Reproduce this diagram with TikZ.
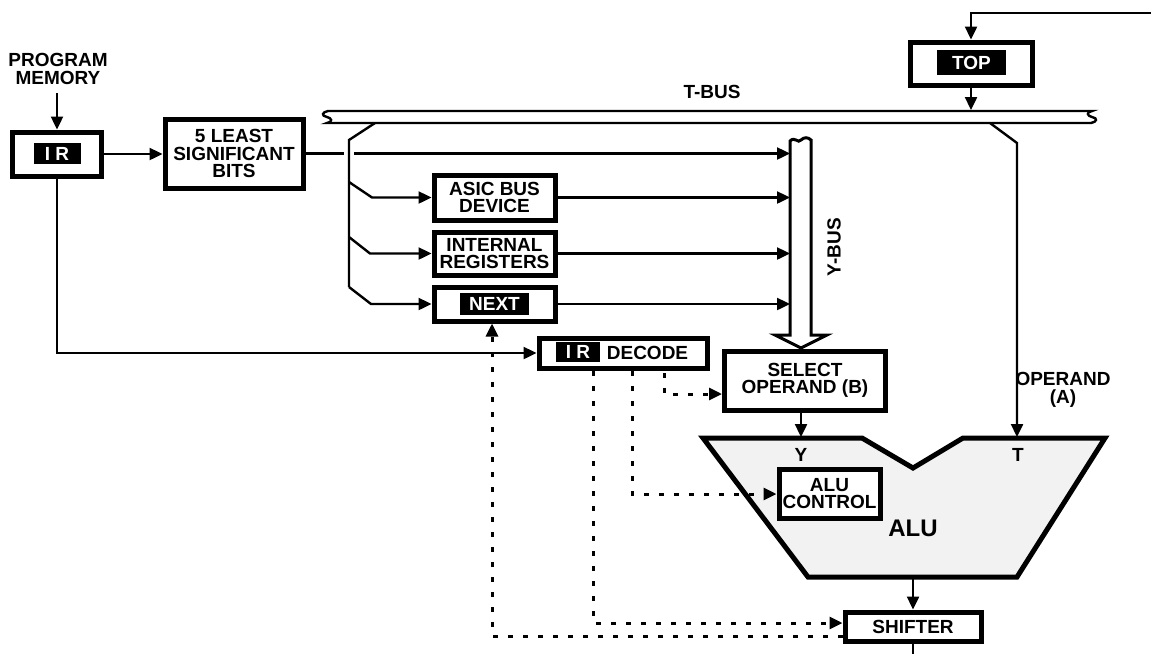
\documentclass[tikz,border=0pt]{standalone}
\usepackage{fontspec}
\setmainfont{Liberation Sans}
\usetikzlibrary{arrows.meta,calc}
\begin{document}
\begin{tikzpicture}[x=1pt,y=-1pt,
  conn/.style={line width=2.4pt},
  arr/.style={conn,-{Triangle[length=13pt,width=12pt]}},
  dot/.style={line width=3pt, dash pattern=on 5pt off 10pt},
  darr/.style={dot,-{Triangle[length=13pt,width=12pt]}},
  txt/.style={font=\fontsize{19}{17.5}\selectfont\bfseries},
  box/.style={draw,fill=white,line width=5pt,inner sep=0pt,align=center,txt},
  blk/.style={fill=black,text=white,inner sep=0pt,txt},
  lbl/.style={inner sep=0pt,align=center,txt}]
\fill[white] (0,0) rectangle (1151,654);
\useasboundingbox (0,0) rectangle (1151,654);

% T-bus
\draw[line width=2.4pt, fill=white] (328,111) -- (1092,111)
  .. controls (1086,112) and (1087,116) .. (1092,117)
  .. controls (1098,118) and (1097,122) .. (1091,123) -- (327,123)
  .. controls (333,122) and (332,118) .. (327,117)
  .. controls (321,116) and (322,112) .. (328,111) -- cycle;
\node[lbl] (TB) at (712,92) {T-BUS};

% Y-bus
\draw[line width=3pt, fill=white, line join=miter] (790,141) -- (790,335) -- (775,335) -- (801,348) -- (827,335) -- (811,335) -- (811,140)
  .. controls (808,137) and (804,137) .. (801,140)
  .. controls (798,144) and (795,136) .. (790,141) -- cycle;
\node[lbl,rotate=90] (YB) at (834,247) {Y-BUS};
\coordinate (ybl) at (790,0);

% ALU
\draw[line width=5pt, fill=black!5, line join=miter] (703,438) -- (862,438) -- (913,468) -- (963,438) -- (1105,438) -- (1017,577) -- (808,577) -- cycle;
\node[lbl] (Ylab) at (801,455) {Y};
\node[lbl] (Tlab) at (1018,455) {T};
\node[lbl,font=\fontsize{24}{24}\selectfont\bfseries] (ALU) at (913,528) {ALU};

% nodes
\node[lbl] (PM) at (58,69) {PROGRAM\\MEMORY};
\node[box,minimum width=89pt,minimum height=44pt] (IR) at (57,154) {};
\node[blk,minimum width=47pt,minimum height=21pt] (IRl) at (57,153.5) {I R};
\node[box,minimum width=138pt,minimum height=69pt] (LSB) at (234,153.5) {5 LEAST\\SIGNIFICANT\\BITS};
\node[box,minimum width=121pt,minimum height=45pt] (ASIC) at (494.5,197.5) {ASIC BUS\\DEVICE};
\node[box,minimum width=121pt,minimum height=43pt] (INT) at (494.5,253.5) {INTERNAL\\REGISTERS};
\node[box,minimum width=121pt,minimum height=34pt] (NEXT) at (494.5,304) {};
\node[blk,minimum width=69pt,minimum height=22pt] (NEXTl) at (494.5,304) {NEXT};
\node[box,minimum width=168pt,minimum height=30pt] (DEC) at (623,353) {};
\node[blk,minimum width=44pt,minimum height=20pt] (DECl) at (578,352) {I R};
\node[lbl] (DECt) at (647.5,353) {DECODE};
\node[box,minimum width=161pt,minimum height=59pt] (SEL) at (805,380.5) {SELECT\\OPERAND (B)};
\node[box,minimum width=122pt,minimum height=43pt] (TOP) at (971,63.5) {};
\node[blk,minimum width=69pt,minimum height=25pt] (TOPl) at (971.5,62.5) {TOP};
\node[box,minimum width=101pt,minimum height=49pt] (AC) at (829.5,493.5) {ALU\\CONTROL};
\node[box,minimum width=136pt,minimum height=29pt] (SH) at (913,626.5) {SHIFTER};
\node[lbl] (OPA) at (1063,390) {OPERAND\\(A)};

% connectors
\coordinate (pm) at (57,93);
\draw[arr] (pm) -- (IR.north);
\draw[arr] (IR.east) -- (LSB.west |- IR.east);
\draw[conn] (375,123) -- (349,140) -- (349,287);
\draw[conn] (LSB.east) -- (344,153.5);
\draw[arr] (354,153.5) -- (ybl |- 0,153.5);
\draw[arr] (349,182) -- (372,197.5) -- (ASIC.west);
\draw[arr] (349,237) -- (370,253.5) -- (INT.west);
\draw[arr] (349,287) -- (371,304) -- (NEXT.west);
\draw[arr] (ASIC.east) -- (ASIC.east -| ybl);
\draw[arr] (INT.east) -- (INT.east -| ybl);
\draw[arr] (NEXT.east) -- (NEXT.east -| ybl);
\draw[arr] (IR.south) -- (57,353) -- (DEC.west);
\coordinate (tin) at (1151,13);
\draw[arr] (tin) -- (971,13) -- (TOP.north);
\draw[arr] (TOP.south) -- (971,110);
\draw[arr] (990,123) -- (1017,143) -- (1017,437);
\draw[arr] (SEL.south -| 801,0) -- (801,437);
\draw[arr] (913,579) -- (SH.north);
\draw[conn] (SH.south) -- (913,654);

% dotted control lines
\draw[darr] (664,373) -- (664,394) -- (SEL.west |- 0,394);
\draw[darr] (632,371) -- (632,494) -- (AC.west |- 0,494);
\draw[darr] (593,371) -- (593,623) -- (SH.west |- 0,623);
\draw[darr] (SH.west |- 0,636) -- (492,636) -- (NEXT.south -| 492,0);
\end{tikzpicture}
\end{document}
